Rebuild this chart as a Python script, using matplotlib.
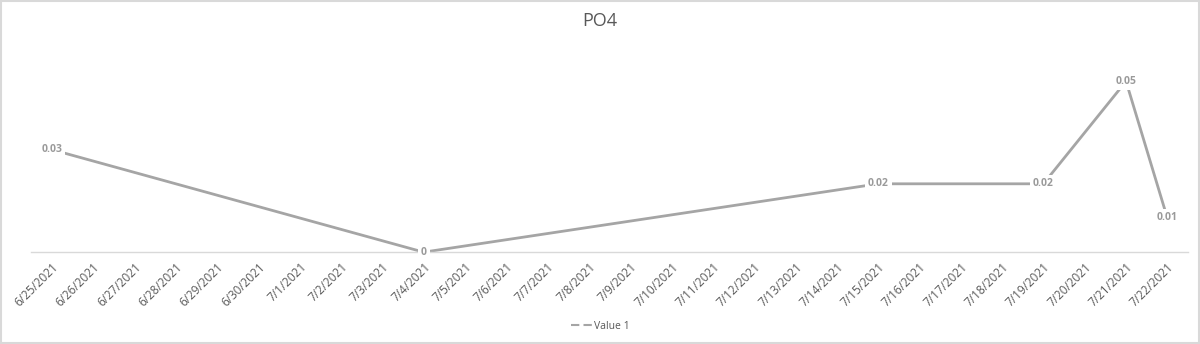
import matplotlib.pyplot as plt
from matplotlib.lines import Line2D

# category axis: every day from 6/25 to 7/22
dates = ["6/25/2021", "6/26/2021", "6/27/2021", "6/28/2021", "6/29/2021",
         "6/30/2021", "7/1/2021", "7/2/2021", "7/3/2021", "7/4/2021",
         "7/5/2021", "7/6/2021", "7/7/2021", "7/8/2021", "7/9/2021",
         "7/10/2021", "7/11/2021", "7/12/2021", "7/13/2021", "7/14/2021",
         "7/15/2021", "7/16/2021", "7/17/2021", "7/18/2021", "7/19/2021",
         "7/20/2021", "7/21/2021", "7/22/2021"]

# measured points
sample_dates = ["6/25/2021", "7/4/2021", "7/15/2021", "7/19/2021", "7/21/2021", "7/22/2021"]
values = [0.03, 0, 0.02, 0.02, 0.05, 0.01]
labels = ["0.03", "0", "0.02", "0.02", "0.05", "0.01"]

plt.rcParams["font.family"] = ["Open Sans", "DejaVu Sans"]

fig = plt.figure(figsize=(12, 3.44), dpi=100)
ax = fig.add_axes([0.026, 0.267, 0.964, 0.596])

xs = [dates.index(d) for d in sample_dates]
line_color = "#a5a5a5"
ax.plot(xs, values, color=line_color, lw=2, solid_capstyle="butt", zorder=2)

for x, v, t in zip(xs, values, labels):
    ax.text(x, v, t, ha="center", va="center", fontsize=7.5, color="#9a9a9a",
            fontweight="bold", zorder=3,
            bbox=dict(boxstyle="square,pad=0.3", fc="white", ec="none"))

ax.set_xlim(-0.5, len(dates) - 0.5)
ax.set_ylim(0, 0.06)
ax.set_xticks(range(len(dates)))
ax.set_xticklabels(dates, rotation=45, ha="right", rotation_mode="anchor",
                   fontsize=8.5, color="#595959")
ax.tick_params(axis="x", length=0, pad=6)
ax.set_yticks([])

for s in ["top", "right", "left"]:
    ax.spines[s].set_visible(False)
ax.spines["bottom"].set_color("#d9d9d9")
ax.spines["bottom"].set_linewidth(1)

fig.text(0.5, 0.94, "PO4", ha="center", va="center", fontsize=13, color="#595959")

handle = Line2D([], [], color=line_color, lw=1.5, linestyle=(0, (4, 2)))
fig.legend([handle], ["Value 1"], loc="center", bbox_to_anchor=(0.5, 0.052),
           frameon=False, fontsize=7.5, labelcolor="#595959",
           handlelength=2.0, handletextpad=0.2)

# thin grey frame around the chart
fig.patches.append(plt.Rectangle((0.001, 0.002), 0.998, 0.995, transform=fig.transFigure,
                                 fill=False, ec="#d9d9d9", lw=1.5))

fig.savefig("out.png", dpi=100, facecolor="white")
